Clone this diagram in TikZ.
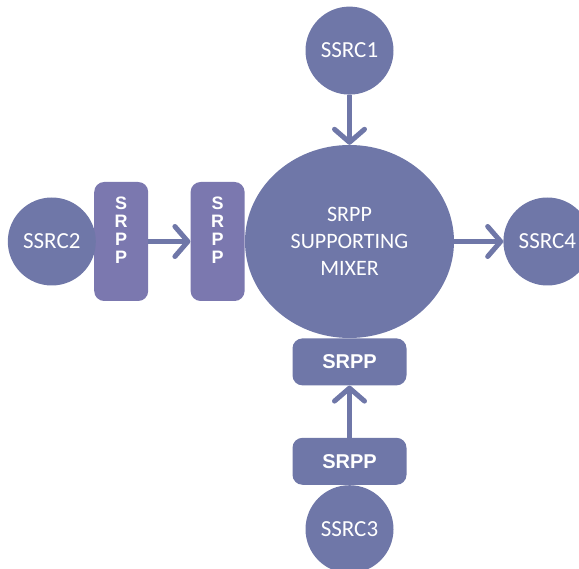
\documentclass[tikz,border=0pt]{standalone}
\usepackage{fontspec}
\setmainfont{Carlito}
\newfontfamily\boxfont{Liberation Sans}
\usetikzlibrary{shapes.geometric,arrows.meta,positioning}
\definecolor{srcblue}{HTML}{6F77A8}
\definecolor{boxpurple}{HTML}{7B78AF}

\begin{document}
\begin{tikzpicture}[x=1pt,y=-1pt,
    src/.style={circle,fill=srcblue,text=white,minimum size=88pt,inner sep=0pt,
      font=\fontsize{23}{26}\selectfont},
    tall/.style={rectangle,rounded corners=10pt,fill=boxpurple,text=white,
      minimum width=54pt,minimum height=119pt,inner sep=0pt,align=center,
      text depth=22pt,font=\boxfont\bfseries\fontsize{18}{18}\selectfont},
    wide/.style={rectangle,rounded corners=10pt,fill=srcblue,text=white,
      minimum width=114pt,minimum height=47pt,inner sep=0pt,
      font=\boxfont\bfseries\fontsize{20}{23}\selectfont},
    flow/.style={draw=srcblue,line width=5pt,
      -{Straight Barb[length=13pt,width=30pt,round]}}]
  \useasboundingbox (0,0) rectangle (579,569);
  \clip (0,0) rectangle (579,569);

  \node[ellipse,fill=srcblue,text=white,minimum width=209pt,minimum height=193pt,
        inner sep=0pt,align=center,font=\fontsize{22}{27}\selectfont]
        (mixer) at (349.5,241.5) {SRPP\\SUPPORTING\\MIXER};
  \node[src]  (ssrc_1) [above=50pt of mixer] {SSRC1};
  \node[src]  (ssrc_4) [right=49pt of mixer] {SSRC4};
  \node[tall] (srpp_b) [left=0pt of mixer]   {S\\R\\P\\P};
  \node[tall] (srpp_a) [left=42pt of srpp_b] {S\\R\\P\\P};
  \node[src]  (ssrc_2) [left=-2pt of srpp_a] {SSRC2};
  \node[wide] (srpp_d) [below=0pt of mixer]  {SRPP};
  \node[wide] (srpp_c) [below=52pt of srpp_d] {SRPP};
  \node[src]  (ssrc_3) [below=0pt of srpp_c] {SSRC3};

  \path[flow]
    (ssrc_1) edge (mixer)
    (srpp_a) edge (srpp_b)
    (mixer)  edge (ssrc_4)
    (srpp_c) edge (srpp_d);
\end{tikzpicture}
\end{document}
